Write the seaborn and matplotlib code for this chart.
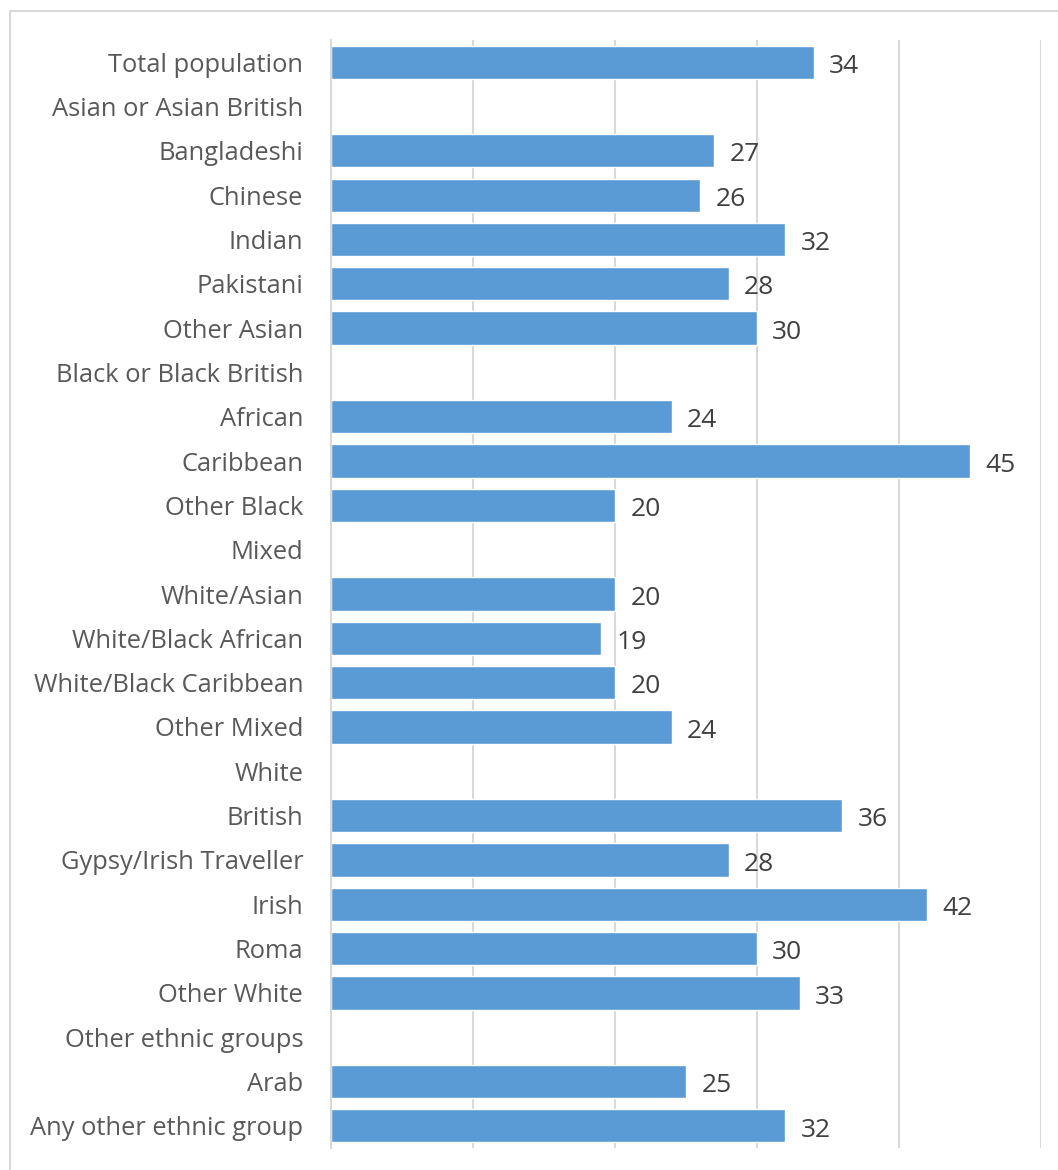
import numpy as np
import pandas as pd
import matplotlib
matplotlib.use("Agg")
import matplotlib.pyplot as plt
import seaborn as sns
from matplotlib.patches import Rectangle

categories = [
    "Total population", "Asian or Asian British", "Bangladeshi", "Chinese", "Indian",
    "Pakistani", "Other Asian", "Black or Black British", "African", "Caribbean",
    "Other Black", "Mixed", "White/Asian", "White/Black African", "White/Black Caribbean",
    "Other Mixed", "White", "British", "Gypsy/Irish Traveller", "Irish", "Roma",
    "Other White", "Other ethnic groups", "Arab", "Any other ethnic group",
]
values = [34, np.nan, 27, 26, 32, 28, 30, np.nan, 24, 45, 20, np.nan, 20, 19, 20, 24,
          np.nan, 36, 28, 42, 30, 33, np.nan, 25, 32]
x_ticks = [0, 10, 20, 30, 40, 50]

df = pd.DataFrame({"category": categories, "value": values})

sns.set_style("white")
plt.rcParams["font.family"] = ["Open Sans", "DejaVu Sans"]

fig = plt.figure(figsize=(10.58, 11.70), dpi=100)
ax = fig.add_axes([331 / 1058, 1 - 1148 / 1170, 710 / 1058, 1108 / 1170])

sns.barplot(data=df.dropna(), x="value", y="category", order=categories, orient="h",
            color="#5B9BD5", saturation=1, width=0.75, ax=ax)

ax.set_xlim(0, 50)
ax.set_xticks(x_ticks)
ax.set_xticklabels([])
ax.tick_params(axis="x", length=0)
ax.tick_params(axis="y", length=0, pad=20, labelsize=18.4, labelcolor="#595959")
ax.set_xlabel("")
ax.set_ylabel("")
ax.grid(axis="x", color="#D9D9D9", linewidth=1.5)
ax.set_axisbelow(True)
for s in ["top", "right", "bottom"]:
    ax.spines[s].set_visible(False)
ax.spines["left"].set_color("#D9D9D9")
ax.spines["left"].set_linewidth(1.5)

for c in ax.containers:
    texts = ax.bar_label(c, fmt="%g", padding=11, fontsize=19, color="#404040")
    for t in texts:
        t.xyann = (11, -3)

fig.patches.append(Rectangle((10 / 1058, -0.05), 1.2, 1 - 11 / 1170 + 0.05,
                             transform=fig.transFigure, fill=False,
                             edgecolor="#D9D9D9", linewidth=1.5))

fig.savefig("out.png", dpi=100)
